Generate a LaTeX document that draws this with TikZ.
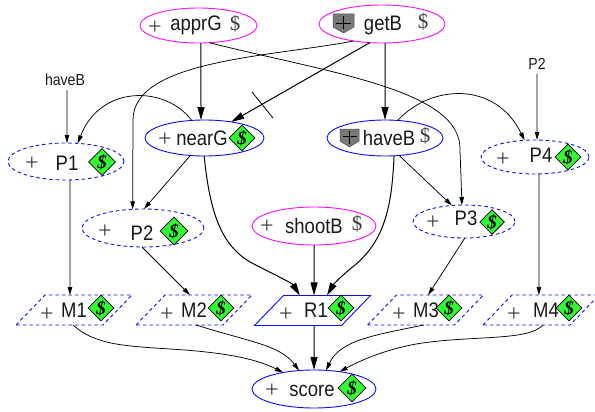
\documentclass[tikz,border=0pt]{standalone}
\usepackage{fontspec}
\setmainfont{Liberation Serif}
\newfontfamily\labfont[FakeStretch=0.88]{Liberation Sans}
\usetikzlibrary{shapes.geometric,arrows.meta}
\definecolor{nodeblue}{RGB}{10,10,255}
\definecolor{nodemag}{RGB}{250,10,250}
\definecolor{signgreen}{RGB}{50,250,50}
\definecolor{plusgray}{RGB}{60,60,60}
\definecolor{shieldgray}{RGB}{120,120,120}
\newcommand{\parabody}{\phantom{\rule{58pt}{30pt}}}
\tikzset{
  given/.style={draw=nodemag,line width=0.9pt,ellipse,inner sep=0pt,outer sep=0pt},
  chance/.style={draw=nodeblue,line width=0.9pt,ellipse,inner sep=0pt,outer sep=0pt},
  chancedash/.style={chance,dash pattern=on 3.5pt off 3pt},
  para/.style={draw=nodeblue,line width=0.9pt,trapezium,trapezium left angle=46,trapezium right angle=134,
     inner sep=0pt,outer sep=0pt},
  paradash/.style={para,dash pattern=on 3.5pt off 3pt},
  lab/.style={anchor=base,inner sep=0pt,font=\labfont\fontsize{21}{21}\selectfont,text=black!90},
  smalllab/.style={inner sep=0pt,font=\labfont\fontsize{16}{16}\selectfont,text=black!90},
  plus/.style={inner sep=0pt,yshift=-3pt,font=\fontsize{24}{24}\selectfont,text=plusgray},
  dollar/.style={inner sep=0pt,font=\fontsize{21}{21}\selectfont,text=plusgray},
  sign/.style={diamond,draw=black,fill=signgreen,line width=0.8pt,inner sep=0pt,aspect=1,
     minimum width=26pt,minimum height=26pt,font=\bfseries\itshape\fontsize{19}{19}\selectfont},
  bigedge/.style={draw=black,line width=1pt,-{Triangle[length=13pt,width=7pt]}},
  smalledge/.style={draw=black,line width=0.75pt,-{Triangle[length=8pt,width=4.5pt]}},
  shield/.style={draw=black!70,fill=shieldgray,line width=0.5pt},
  shieldplus/.style={draw=black,line width=0.5pt}
}
\begin{document}
\begin{tikzpicture}[x=1pt,y=-1pt]
\useasboundingbox (0,0) rectangle (595,412);
% ellipses
\node[given,minimum width=117pt,minimum height=35pt] (apprG) at (198.5,25.5) {};
\node[given,minimum width=126pt,minimum height=38pt] (getB) at (382,24) {};
\node[chance,minimum width=119pt,minimum height=36pt] (nearG) at (204.5,138) {};
\node[chance,minimum width=116pt,minimum height=36pt] (haveB) at (385,138) {};
\node[chancedash,minimum width=116pt,minimum height=37pt] (P1) at (66,161.5) {};
\node[chancedash,minimum width=122pt,minimum height=38pt] (P2) at (143,228) {};
\node[chancedash,minimum width=102pt,minimum height=33pt] (P3) at (464,221.5) {};
\node[chancedash,minimum width=108pt,minimum height=34pt] (P4) at (535,157) {};
\node[given,minimum width=124pt,minimum height=38pt] (shootB) at (314,226) {};
\node[chance,minimum width=124pt,minimum height=38pt] (score) at (314,389) {};
% parallelograms
\node[paradash] (M1) at (74,310) {\parabody};
\node[paradash] (M2) at (194,310) {\parabody};
\node[para] (R1) at (312.5,310.5) {\parabody};
\node[paradash] (M3) at (425.5,310) {\parabody};
\node[paradash] (M4) at (541,310) {\parabody};
% free labels
\node[smalllab] (lhaveB) at (65,80) {haveB};
\node[smalllab] (lP2) at (537,64) {P2};
% connectors
\draw[smalledge] (lhaveB.south) ++(2,4) coordinate (h0) (h0) -- (P1.87);
\draw[smalledge] (lP2.south) ++(0,4) coordinate (p0) (p0) -- (P4.83);
\draw[bigedge] (apprG.-82.7) -- (nearG.101);
\draw[bigedge] (getB.-123.7) -- (nearG.31.7);
\draw[bigedge] (getB.-81.5) -- (haveB.90);
\draw[smalledge] (getB.-149) .. controls (270,57) and (133,60) .. (133,120) -- (P2.119);
\draw[smalledge] (apprG.-58.1) .. controls (330,73) and (462,90) .. (460,150) -- (P3.97.4);
\draw[smalledge] (nearG.126.3) .. controls (165,85) and (100,85) .. (P1.57.2);
\draw[smalledge] (haveB.54.8) .. controls (430,85) and (495,80) .. (P4.122.7);
\draw[smalledge] (nearG.-129.2) -- (P2.87);
\draw[smalledge] (haveB.-51.7) -- (P3.127.7);
\draw[smalledge] (P1.-78) -- (M1.105);
\draw[smalledge] (P2.-93) -- (M2.105);
\draw[smalledge] (P3.-87) -- (M3.80.5);
\draw[smalledge] (P4.-77.5) -- (M4.98);
\draw[bigedge] (nearG.-91.5) .. controls (210,215) and (222,245) .. (250,262) .. controls (275,275) and (292,283) .. (R1.130);
\draw[bigedge] (haveB.-63.4) .. controls (392,205) and (385,240) .. (355,265) .. controls (340,277) and (333,285) .. (R1.46);
\draw[bigedge] (shootB.-90) -- (R1.84);
\draw[bigedge] (R1.-84) -- (score.90);
\draw[smalledge] (M1.-94) .. controls (95,345) and (125,346) .. (170,349) .. controls (220,352) and (255,358) .. (score.152);
\draw[smalledge] (M2.-82) .. controls (250,342) and (280,345) .. (score.129.8);
\draw[smalledge] (M3.-96) .. controls (375,335) and (340,340) .. (score.57);
\draw[smalledge] (M4.-83) .. controls (530,340) and (480,336) .. (430,342) .. controls (395,346) and (365,358) .. (score.34.7);
\draw[line width=0.8pt] (252,92) -- (273,118);
% shields
\draw[shield] (333,14) -- (354,14) -- (354,27) -- (343.5,33) -- (333,27) -- cycle;
\draw[shieldplus] (343.5,16) -- (343.5,29) (336,23) -- (351,23);
\draw[shield] (340,129) -- (359,129) -- (359,141) -- (349.5,147) -- (340,141) -- cycle;
\draw[shieldplus] (349.5,131) -- (349.5,144) (342.5,136.5) -- (356.5,136.5);
% texts
\node[plus] (pa) at (155,25) {+};
\node[lab] (ta) at (196,31) {apprG};
\node[dollar] (da) at (235,24) {\$};
\node[lab] (tg) at (383,31) {getB};
\node[dollar] (dg) at (423,22) {\$};
\node[plus] (pn) at (165,137) {+};
\node[lab] (tn) at (202,145) {nearG};
\node[lab] (th) at (389,145) {haveB};
\node[dollar] (dh) at (425,136) {\$};
\node[plus] (p1) at (32,161) {+};
\node[lab] (t1) at (67,170) {P1};
\node[plus] (p2) at (105,229) {+};
\node[lab] (t2) at (142,240) {P2};
\node[plus] (p3) at (433,220) {+};
\node[lab] (t3) at (466,225) {P3};
\node[plus] (p4) at (503,157) {+};
\node[lab] (t4) at (541,162) {P4};
\node[plus] (ps) at (267,224) {+};
\node[lab] (ts) at (314,233) {shootB};
\node[dollar] (ds) at (357,224) {\$};
\node[plus] (po) at (272,388) {+};
\node[lab] (to) at (312,396) {score};
\node[plus] (pm1) at (47,312) {+};
\node[lab] (tm1) at (74,317) {M1};
\node[plus] (pm2) at (167,312) {+};
\node[lab] (tm2) at (194,317) {M2};
\node[plus] (pr) at (286,312) {+};
\node[lab] (tr) at (316,317) {R1};
\node[plus] (pm3) at (399,312) {+};
\node[lab] (tm3) at (426,317) {M3};
\node[plus] (pm4) at (514,312) {+};
\node[lab] (tm4) at (546,317) {M4};
% value signs
\node[sign] (sn) at (242,138) {\$};
\node[sign,minimum width=27pt,minimum height=27pt] (s1) at (102,162) {\$};
\node[sign,minimum width=28pt,minimum height=28pt] (s2) at (174,231) {\$};
\node[sign,minimum width=24pt,minimum height=24pt] (s3) at (492,222) {\$};
\node[sign] (s4) at (568,157) {\$};
\node[sign] (sm1) at (101,308) {\$};
\node[sign] (sm2) at (221,308) {\$};
\node[sign] (sr) at (341,308) {\$};
\node[sign] (sm3) at (449,308) {\$};
\node[sign] (sm4) at (569,308) {\$};
\node[sign,minimum width=28pt,minimum height=28pt] (so) at (352,388) {\$};
\end{tikzpicture}
\end{document}
